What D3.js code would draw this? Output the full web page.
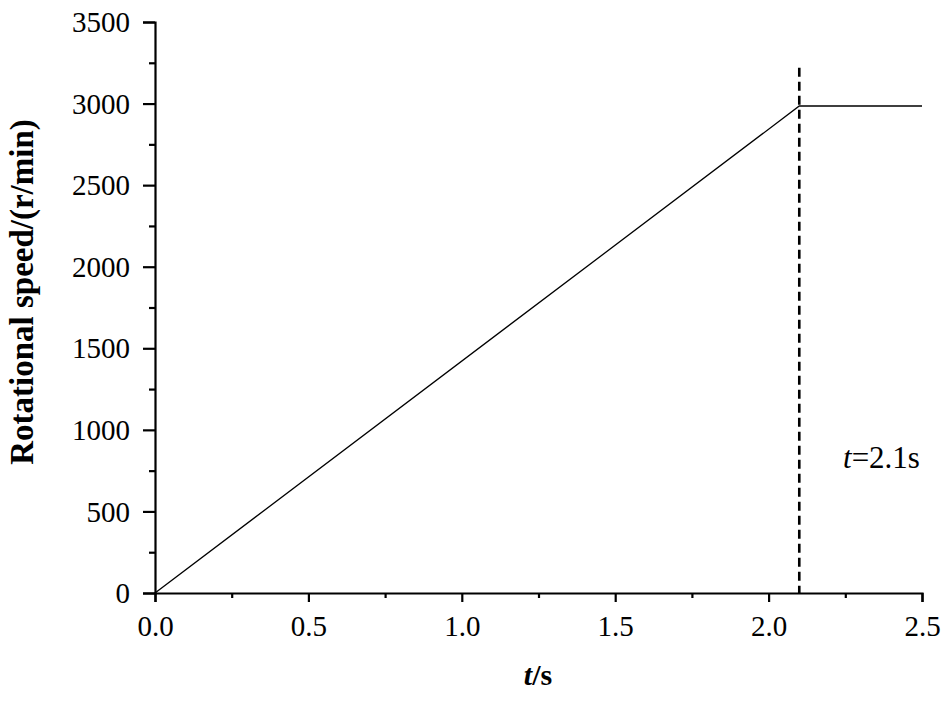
<!DOCTYPE html>
<html><head><meta charset="utf-8">
<script src="https://cdn.jsdelivr.net/npm/d3@7"></script>
<style>body{margin:0;background:#fff}svg{display:block}</style>
</head><body>
<svg id="c" width="950" height="705"></svg>
<script>
const timeS = [0, 2.1, 2.5];
const speed = [0, 2985, 2985];
const xTicks = [0, 0.5, 1.0, 1.5, 2.0, 2.5];
const yTicks = [0, 500, 1000, 1500, 2000, 2500, 3000, 3500];
const markerT = 2.1;
const markerTop = 3220;

const svg = d3.select("#c");
const x = d3.scaleLinear().domain([0, 2.5]).range([155, 922]);
const y = d3.scaleLinear().domain([0, 3500]).range([593, 22]);
const font = "'Liberation Serif','Times New Roman',serif";

const xMinor = d3.range(0.25, 2.5, 0.5);
const yMinor = d3.range(250, 3500, 500);

const gx = svg.append("g").attr("transform", "translate(0,593)")
  .call(d3.axisBottom(x).tickValues(xTicks).tickFormat(d3.format(".1f")).tickSizeOuter(0).tickSize(9).tickPadding(13));
gx.append("g").call(d3.axisBottom(x).tickValues(xMinor).tickFormat("").tickSize(5).tickSizeOuter(0))
  .select(".domain").remove();
const gy = svg.append("g").attr("transform", "translate(155,0)")
  .call(d3.axisLeft(y).tickValues(yTicks).tickFormat(d3.format("d")).tickSizeOuter(0).tickSize(12).tickPadding(13));
gy.append("g").call(d3.axisLeft(y).tickValues(yMinor).tickFormat("").tickSize(6).tickSizeOuter(0))
  .select(".domain").remove();

svg.selectAll(".domain").attr("stroke", "#000").attr("stroke-width", 2.2);
svg.selectAll(".tick line").attr("stroke", "#000").attr("stroke-width", 2.2);
svg.selectAll(".tick text").attr("font-family", font).attr("font-size", 29).attr("fill", "#000");
gx.selectAll(".tick text").attr("dy", "0.71em");
gy.selectAll(".tick text").attr("dy", "0.33em");

const pts = timeS.map((t, i) => [t, speed[i]]);
svg.append("path").datum(pts)
  .attr("d", d3.line().x(d => x(d[0])).y(d => y(d[1])))
  .attr("fill", "none").attr("stroke", "#000").attr("stroke-width", 1.3);

svg.append("line")
  .attr("x1", x(markerT)).attr("x2", x(markerT))
  .attr("y1", y(markerTop)).attr("y2", y(0))
  .attr("stroke", "#000").attr("stroke-width", 2.6).attr("stroke-dasharray", "9,5");

const ann = svg.append("text").attr("x", 843).attr("y", 468)
  .attr("font-family", font).attr("font-size", 31).attr("fill", "#000");
ann.append("tspan").attr("font-style", "italic").text("t");
ann.append("tspan").text("=2.1s");

const xl = svg.append("text").attr("x", 538).attr("y", 685).attr("text-anchor", "middle")
  .attr("font-family", font).attr("font-size", 30).attr("font-weight", "bold").attr("fill", "#000");
xl.append("tspan").attr("font-style", "italic").text("t");
xl.append("tspan").text("/s");

svg.append("text").attr("transform", "translate(33,292) rotate(-90)").attr("text-anchor", "middle")
  .attr("font-family", font).attr("font-size", 33).attr("font-weight", "bold").attr("fill", "#000")
  .text("Rotational speed/(r/min)");
</script>
</body></html>
